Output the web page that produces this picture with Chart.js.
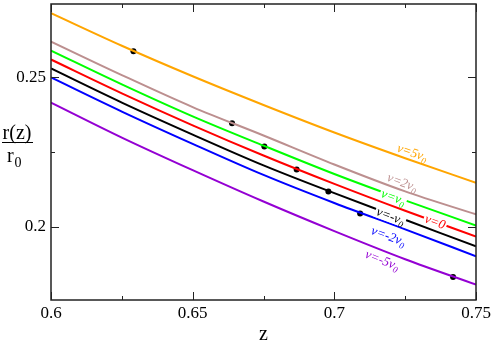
<!DOCTYPE html>
<html><head><meta charset="utf-8">
<script src="https://cdn.jsdelivr.net/npm/chart.js@4/dist/chart.umd.min.js"></script>
<style>html,body{margin:0;padding:0;background:#fff;}canvas{display:block;}</style>
</head><body>
<canvas id="c" width="493" height="341"></canvas>
<script>
// ---- data ----
const zValues = [0.6, 0.625, 0.65, 0.675, 0.7, 0.725, 0.75];
const rPlus5  = [0.2715, 0.2606, 0.2504, 0.2408, 0.2316, 0.2230, 0.2148];
const rPlus2  = [0.2620, 0.2508, 0.2401, 0.2306, 0.2209, 0.2119, 0.2042];
const rPlus1  = [0.2590, 0.2477, 0.2370, 0.2272, 0.2177, 0.2089, 0.2005];
const rZero   = [0.2560, 0.2447, 0.2340, 0.2239, 0.2144, 0.2054, 0.1968];
const rMinus1 = [0.2530, 0.2416, 0.2309, 0.2206, 0.2113, 0.2024, 0.1935];
const rMinus2 = [0.2500, 0.2386, 0.2278, 0.2174, 0.2080, 0.1992, 0.1902];
const rMinus5 = [0.2416, 0.2299, 0.2190, 0.2085, 0.1986, 0.1892, 0.1807];
const markerZ = [0.6291, 0.6639, 0.6753, 0.6867, 0.6979, 0.7091, 0.7419];
const markerR = [0.2588, 0.2347, 0.2269, 0.2192, 0.2119, 0.2045, 0.1833];
const seriesMain = ['ν=5ν', 'ν=2ν', 'ν=ν', 'ν=0', 'ν=-ν', 'ν=-2ν', 'ν=-5ν'];
const seriesSub  = ['0', '0', '0', '', '0', '0', '0'];
const xMajorTicks = [0.6, 0.65, 0.7, 0.75];
const xMinorTicks = [0.625, 0.675, 0.725];
const yMajorTicks = [0.2, 0.25];
const yMinorTicks = [0.225];

// ---- styles / placement (not data) ----
const seriesValues = [rPlus5, rPlus2, rPlus1, rZero, rMinus1, rMinus2, rMinus5];
const colors = ['#FFA500', '#BC8F8F', '#00FF00', '#FF0000', '#000000', '#0000FF', '#9400D3'];
const labelAt = [
  {z: 0.7275, r: 0.2249, bg: false},
  {z: 0.7240, r: 0.2149, bg: false},
  {z: 0.7208, r: 0.2099, bg: true},
  {z: 0.7356, r: 0.2017, bg: true},
  {z: 0.7198, r: 0.2036, bg: true},
  {z: 0.7191, r: 0.1969, bg: false},
  {z: 0.7169, r: 0.1889, bg: false}
];
const Y_MIN = 0.17557, Y_MAX = 0.27457;

const datasets = seriesValues.map((vals, i) => ({
  type: 'line',
  data: zValues.map((z, k) => ({x: z, y: vals[k]})),
  borderColor: colors[i],
  borderWidth: 2,
  pointRadius: 0,
  cubicInterpolationMode: 'monotone',
  fill: false
}));
datasets.push({
  type: 'scatter',
  data: markerZ.map((z, k) => ({x: z, y: markerR[k]})),
  backgroundColor: '#000',
  borderColor: '#000',
  pointRadius: 3,
  borderWidth: 0,
  showLine: false
});

const decor = {
  id: 'decor',
  afterDatasetsDraw(chart) {
    const ctx = chart.ctx;
    const xs = chart.scales.x, ys = chart.scales.y;
    labelAt.forEach((lab, i) => {
      const px = xs.getPixelForValue(lab.z), py = ys.getPixelForValue(lab.r);
      const vals = seriesValues[i];
      let k = 0;
      while (k < zValues.length - 2 && zValues[k + 1] < lab.z) k++;
      const ax = xs.getPixelForValue(zValues[k]), ay = ys.getPixelForValue(vals[k]);
      const bx = xs.getPixelForValue(zValues[k + 1]), by = ys.getPixelForValue(vals[k + 1]);
      const ang = Math.atan2(by - ay, bx - ax);
      ctx.save();
      ctx.translate(px, py);
      ctx.rotate(ang);
      const mainFont = 'italic 13px "Liberation Serif"';
      const subFont = 'italic 9px "Liberation Serif"';
      ctx.font = mainFont;
      const wMain = ctx.measureText(seriesMain[i]).width;
      ctx.font = subFont;
      const wSub = seriesSub[i] ? ctx.measureText(seriesSub[i]).width : 0;
      const total = wMain + wSub;
      if (lab.bg) {
        ctx.fillStyle = '#fff';
        ctx.fillRect(-total / 2 - 1.5, -6, total + 3, 12);
      }
      ctx.fillStyle = colors[i];
      ctx.textBaseline = 'alphabetic';
      ctx.textAlign = 'left';
      ctx.font = mainFont;
      ctx.fillText(seriesMain[i], -total / 2, 4);
      if (seriesSub[i]) {
        ctx.font = subFont;
        ctx.fillText(seriesSub[i], -total / 2 + wMain, 7);
      }
      ctx.restore();
    });
  },
  afterDraw(chart) {
    const ctx = chart.ctx;
    const a = chart.chartArea;
    const xs = chart.scales.x, ys = chart.scales.y;
    ctx.save();
    ctx.strokeStyle = '#222';
    ctx.lineWidth = 1.5;
    ctx.strokeRect(a.left, a.top, a.right - a.left, a.bottom - a.top);
    ctx.lineWidth = 1;
    ctx.beginPath();
    const tx = (v, len) => {
      const p = Math.round(xs.getPixelForValue(v)) + 0.5;
      ctx.moveTo(p, a.bottom); ctx.lineTo(p, a.bottom - len);
      ctx.moveTo(p, a.top); ctx.lineTo(p, a.top + len);
    };
    const ty = (v, len) => {
      const p = Math.round(ys.getPixelForValue(v)) + 0.5;
      ctx.moveTo(a.left, p); ctx.lineTo(a.left + len, p);
      ctx.moveTo(a.right, p); ctx.lineTo(a.right - len, p);
    };
    xMajorTicks.forEach(v => tx(v, 8));
    xMinorTicks.forEach(v => tx(v, 4));
    yMajorTicks.forEach(v => ty(v, 8));
    yMinorTicks.forEach(v => ty(v, 4));
    ctx.stroke();
    ctx.fillStyle = '#000';
    ctx.textAlign = 'center';
    ctx.textBaseline = 'alphabetic';
    ctx.font = '20px "Liberation Serif"';
    ctx.fillText('z', (a.left + a.right) / 2, 340);
    ctx.fillText('r(z)', 17, 139);
    ctx.fillRect(2, 142, 31, 1);
    ctx.textAlign = 'left';
    ctx.fillText('r', 7, 161.5);
    ctx.font = '14px "Liberation Serif"';
    ctx.fillText('0', 14.5, 166.5);
    ctx.restore();
  }
};

new Chart(document.getElementById('c'), {
  data: {datasets},
  options: {
    responsive: false,
    animation: false,
    events: [],
    layout: {padding: {left: 0, right: 17, top: 3, bottom: 0}},
    plugins: {legend: {display: false}, tooltip: {enabled: false}},
    scales: {
      x: {
        type: 'linear', min: 0.6, max: 0.75,
        grid: {display: false, drawTicks: false},
        border: {display: false},
        afterBuildTicks: s => { s.ticks = xMajorTicks.map(v => ({value: v})); },
        afterFit: s => { s.height = 41; s.paddingLeft = 0; s.paddingRight = 0; },
        ticks: {
          padding: 3, color: '#000', maxRotation: 0,
          font: {family: '"Liberation Serif"', size: 17},
          callback: v => String(v)
        }
      },
      y: {
        type: 'linear', min: Y_MIN, max: Y_MAX,
        grid: {display: false, drawTicks: false},
        border: {display: false},
        afterBuildTicks: s => { s.ticks = yMajorTicks.map(v => ({value: v})); },
        afterFit: s => { s.width = 51; s.paddingTop = 0; s.paddingBottom = 0; },
        ticks: {
          padding: 5, color: '#000',
          font: {family: '"Liberation Serif"', size: 17},
          callback: v => String(v)
        }
      }
    }
  },
  plugins: [decor]
});
</script>
</body></html>
